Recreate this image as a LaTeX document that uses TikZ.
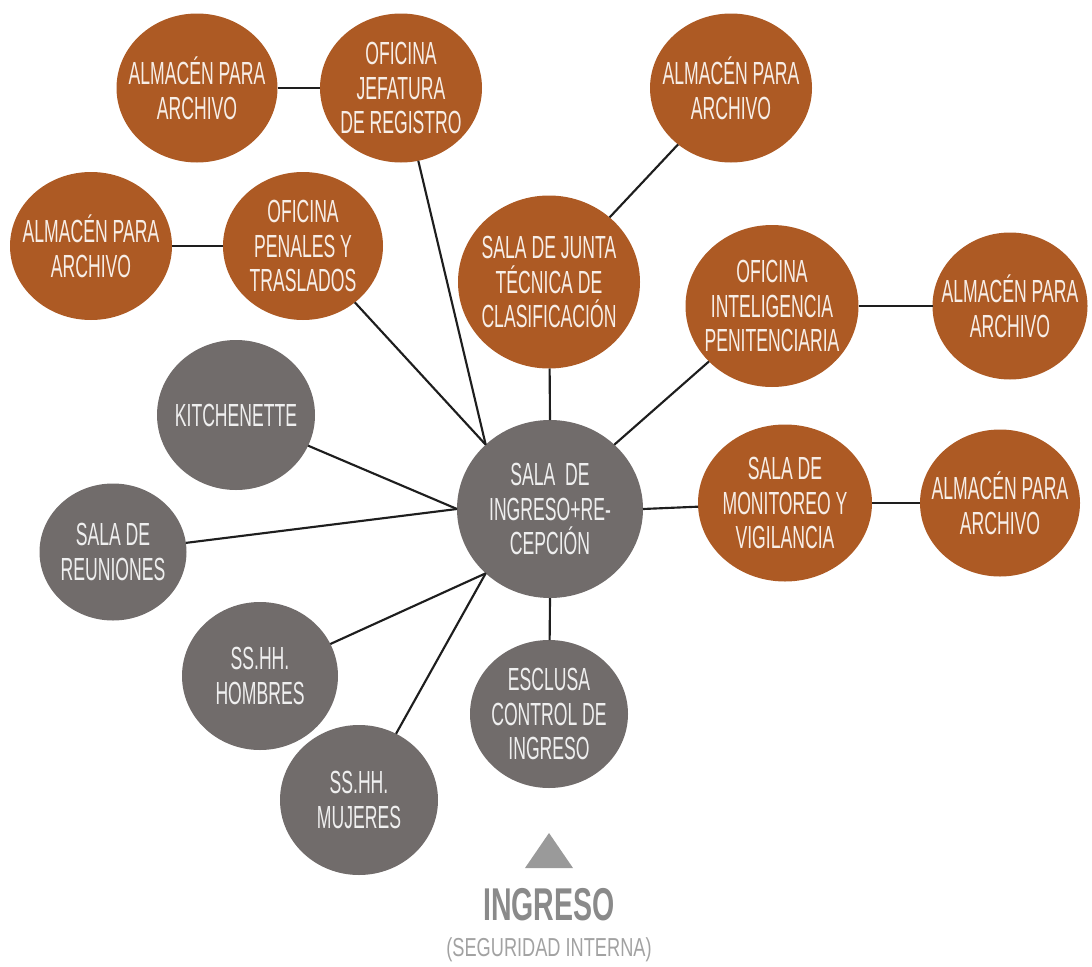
\documentclass[tikz,border=0pt]{standalone}
\usepackage{fontspec}
\usetikzlibrary{shapes.geometric}
\newfontfamily\agency[FakeStretch=0.55]{Liberation Sans}
\newfontfamily\agencyb[FakeStretch=0.62]{Liberation Sans}
\newfontfamily\agencyw[FakeStretch=0.70]{Liberation Sans}
\definecolor{ocre}{HTML}{AD5A24}
\definecolor{piedra}{HTML}{716C6B}
\definecolor{cremita}{HTML}{F7EEE7}
\definecolor{nube}{HTML}{EFEFEF}
\definecolor{linea}{HTML}{1E1E1E}
\definecolor{rotulo}{HTML}{8A8A8A}
\definecolor{rotulob}{HTML}{A2A2A2}
\definecolor{flecha}{HTML}{9A9A9A}
\tikzstyle{sala}=[ellipse,inner sep=0pt,outer sep=0pt]
\tikzstyle{naranja}=[sala,fill=ocre]
\tikzstyle{gris}=[sala,fill=piedra]
\tikzstyle{txt}=[align=center,inner sep=0pt,font=\agency\fontsize{24}{26}\selectfont]
\tikzstyle{tn}=[txt,text=cremita]
\tikzstyle{tg}=[txt,text=nube]
\tikzstyle{ln}=[draw=linea,line width=1.6pt]
\tikzset{sz/.style 2 args={minimum width=#1*0.75pt,minimum height=#2*0.75pt}}

\begin{document}
\begin{tikzpicture}[x=0.75pt,y=-0.75pt]
\useasboundingbox (0,0) rectangle (1092,967);
% zona administrativa
\node[naranja,sz={161}{149},label={[tn]center:{ALMACÉN PARA\\ARCHIVO}}] (almjef) at (197,88) {};
\node[naranja,sz={162}{149},label={[tn]center:{OFICINA\\JEFATURA\\DE REGISTRO}}] (jef) at (401,88) {};
\node[naranja,sz={162}{148},label={[tn]center:{ALMACÉN PARA\\ARCHIVO}}] (almpen) at (91,246) {};
\node[naranja,sz={160}{148},label={[tn]center:{OFICINA\\PENALES Y\\TRASLADOS}}] (pen) at (303,246) {};
\node[naranja,sz={162}{149},label={[tn]center:{ALMACÉN PARA\\ARCHIVO}}] (almjun) at (731,88) {};
\node[naranja,sz={182}{173},label={[tn]center:{SALA DE JUNTA\\TÉCNICA DE\\CLASIFICACIÓN}}] (jun) at (549,282) {};
\node[naranja,sz={173}{162},label={[tn]center:{OFICINA\\INTELIGENCIA\\PENITENCIARIA}}] (intel) at (772,306) {};
\node[naranja,sz={155}{147},label={[tn]center:{ALMACÉN PARA\\ARCHIVO}}] (almint) at (1010,306) {};
\node[naranja,sz={174}{157},label={[tn]center:{SALA DE\\MONITOREO Y\\VIGILANCIA}}] (mon) at (785,503) {};
\node[naranja,sz={160}{147},label={[tn]center:{ALMACÉN PARA\\ARCHIVO}}] (almmon) at (1000,503) {};
% zona de ingreso
\node[gris,sz={186}{178},label={[tg]center:{SALA~ DE\\INGRESO+RE-\\CEPCIÓN}}] (ctr) at (550,509) {};
\node[gris,sz={158}{150},label={[tg]center:{KITCHENETTE}}] (kit) at (236,415) {};
\node[gris,sz={147}{137},label={[tg]center:{SALA DE\\REUNIONES}}] (reu) at (113,552) {};
\node[gris,sz={156}{148},label={[tg]center:{SS.HH.\\HOMBRES}}] (hom) at (260,676) {};
\node[gris,sz={158}{150},label={[tg]center:{SS.HH.\\MUJERES}}] (muj) at (359,800) {};
\node[gris,sz={158}{148},label={[tg]center:{ESCLUSA\\CONTROL DE\\INGRESO}}] (esc) at (549,714) {};
% conexiones
\draw[ln] (almjef) -- (jef);
\draw[ln] (almpen) -- (pen);
\draw[ln] (jun) -- (almjun);
\draw[ln] (intel) -- (almint);
\draw[ln] (mon) -- (almmon);
\draw[ln] (ctr.135) -- (jef);
\draw[ln] (ctr.135) -- (pen);
\draw[ln] (ctr.north) -- (jun);
\draw[ln] (ctr.45) -- (intel);
\draw[ln] (ctr.east) -- (mon);
\draw[ln] (ctr.west) -- (kit);
\draw[ln] (ctr.west) -- (reu);
\draw[ln] (ctr.225) -- (hom);
\draw[ln] (ctr.225) -- (muj);
\draw[ln] (ctr.south) -- (esc);
% acceso
\fill[flecha] (525,868) -- (573,868) -- (549,833) -- cycle;
\node[font=\agencyb\bfseries\fontsize{34.5}{36}\selectfont,text=rotulo,inner sep=0pt] (ing) at (549,905) {INGRESO};
\node[font=\agencyw\fontsize{19.5}{21}\selectfont,text=rotulob,inner sep=0pt] (seg) at (549,950) {(SEGURIDAD INTERNA)};
\end{tikzpicture}
\end{document}
